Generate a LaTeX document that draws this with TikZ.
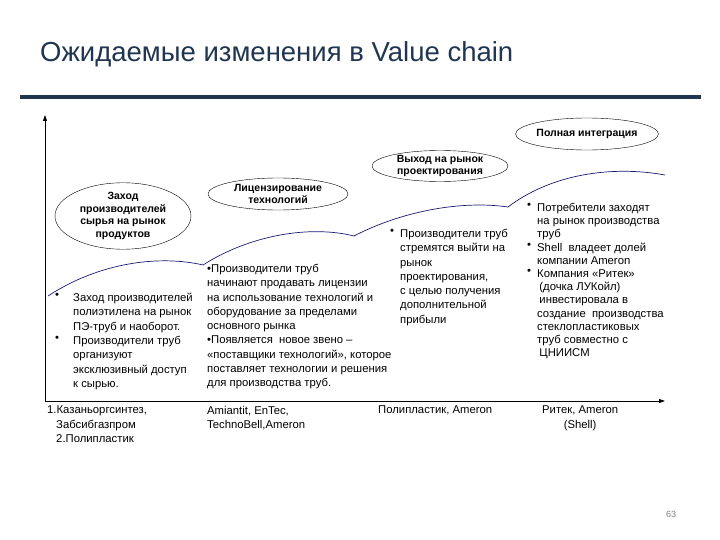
\documentclass[tikz,border=0pt]{standalone}
\usepackage{fontspec}
\setmainfont{Liberation Sans}
\usetikzlibrary{shapes.geometric,arrows.meta}
\definecolor{navy}{HTML}{1F3550}
\definecolor{curve}{HTML}{1A1A70}
\newcommand{\fixls}{\lineskiplimit=-20pt\lineskip=0pt}
\tikzset{
  oval/.style={ellipse,draw,thin,font=\fontsize{10.5}{12.5}\selectfont\bfseries\fixls,align=center,inner sep=0pt},
  body/.style={anchor=north west,inner sep=0pt,align=left,font=\fontsize{11.3}{14.3}\selectfont\fixls},
  rbody/.style={body,font=\fontsize{11.3}{13.2}\selectfont\fixls},
  wave/.style={curve,line width=0.7pt},
  axis/.style={line width=0.8pt,-{Triangle[length=6pt,width=4pt]}}
}
\begin{document}
\begin{tikzpicture}[x=1pt,y=-1pt]
\useasboundingbox (0,0) rectangle (720,540);
\node[anchor=base west,inner sep=0pt,text=navy,font=\fontsize{27.5}{32}\selectfont] (title) at (40,62) {Ожидаемые изменения в Value chain};
\draw[navy,line width=3.5pt] (20,97) -- (701,97);
% axes
\coordinate (o) at (45,401);
\coordinate (ytop) at (45,115);
\coordinate (xend) at (665,401);
\draw[axis] (o) -- (ytop);
\draw[axis] (o) -- (xend);
% waves
\coordinate (p0) at (48,296);
\coordinate (p1) at (203,265);
\coordinate (p2) at (354,236);
\coordinate (p3) at (508,207);
\coordinate (p4) at (665,175);
\draw[wave] (p0) .. controls (100,262) and (160,255) .. (p1);
\draw[wave] (p1) .. controls (250,235) and (310,225) .. (p2);
\draw[wave] (p2) .. controls (400,212) and (460,200) .. (p3);
\draw[wave] (p3) .. controls (550,175) and (610,165) .. (p4);
% ovals
\node[oval,minimum width=136pt,minimum height=64pt] (e1) at (123,216) {Заход\\производителей\\сырья на рынок\\продуктов};
\node[oval,minimum width=140pt,minimum height=32pt] (e2) at (278,194) {Лицензирование\\технологий};
\node[oval,minimum width=136pt,minimum height=30pt] (e3) at (440,166) {Выход на рынок\\проектирования};
\node[oval,minimum width=138pt,minimum height=32pt] (e4) at (587,134) {Полная интеграция};
% text blocks
\node[body] (t1a) at (55,293) {•};
\node[body] (t1c) at (55,335.9) {•};
\node[body] (t1b) at (73,293) {Заход производителей\\полиэтилена на рынок\\ПЭ-труб и наоборот.\\Производители труб\\организуют\\эксклюзивный доступ\\к сырью.};
\node[body] (t2) at (207,264) {•Производители труб\\начинают продавать лицензии\\ на использование технологий и\\оборудование за пределами\\основного рынка\\•Появляется \ новое звено –\\«поставщики технологий», которое\\поставляет технологии и решения\\для производства труб.};
\node[body] (t3a) at (390,229) {•};
\node[body] (t3) at (400,229) {Производители труб\\стремятся выйти на\\рынок\\проектирования,\\с целью получения\\дополнительной\\прибыли};
\node[rbody] (t4a) at (527,203) {•};
\node[rbody] (t4c) at (527,242.6) {•};
\node[rbody] (t4d) at (527,269) {•};
\node[rbody] (t4) at (537,203) {Потребители заходят\\на рынок производства\\труб\\Shell \ владеет долей\\компании Ameron\\Компания «Ритек»\\\hspace*{0.2em}(дочка ЛУКойл)\\\hspace*{0.2em}инвестировала в\\создание \ производства\\стеклопластиковых\\труб совместно с\\\hspace*{0.2em}ЦНИИСМ};
% bottom labels
\node[body] (b1) at (47,406) {1.Казаньоргсинтез,\\\hspace*{0.8em}Забсибгазпром\\\hspace*{0.8em}2.Полипластик};
\node[body] (b2) at (207,406) {Amiantit, EnTec,\\TechnoBell,Ameron};
\node[body] (b3) at (378,406) {Полипластик, Ameron};
\node[body,align=center] (b4) at (542,406) {Ритек, Ameron\\(Shell)};
\node[anchor=base,inner sep=0pt,text=gray,font=\fontsize{9}{10}\selectfont] (pg) at (671,517) {63};
\end{tikzpicture}
\end{document}
